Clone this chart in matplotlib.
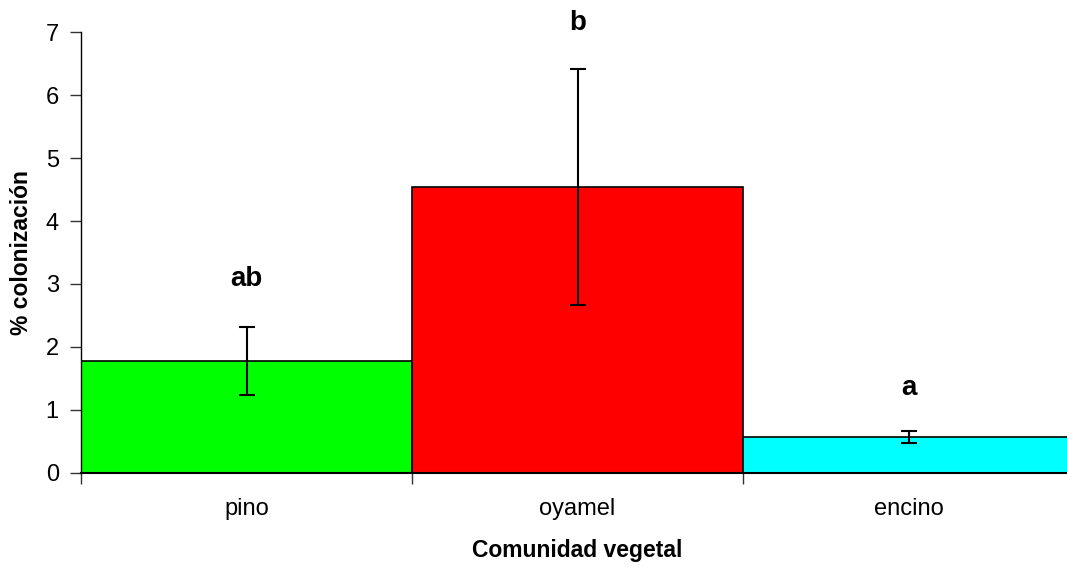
import matplotlib
matplotlib.use("Agg")
import matplotlib.pyplot as plt

# Mean colonisation per plant community, with error and significance letters
communities = ["pino", "oyamel", "encino"]
colonization = [1.77, 4.54, 0.565]
errors = [0.54, 1.88, 0.095]
letters = ["ab", "b", "a"]
letter_heights = [3.08, 7.14, 1.35]
bar_colors = ["#00FF00", "#FF0000", "#00FFFF"]

plt.rcParams["font.family"] = ["Liberation Sans", "DejaVu Sans"]

W, H = 1067, 567
fig = plt.figure(figsize=(W / 100, H / 100), dpi=100)
left_px, right_px, top_px, bottom_px = 81, 1074, 32.3, 472.7
ax = fig.add_axes([left_px / W, (H - bottom_px) / H,
                   (right_px - left_px) / W, (bottom_px - top_px) / H])

x = list(range(len(communities)))
ax.bar(x, colonization, width=1.0, color=bar_colors, edgecolor="black",
       linewidth=1.2, zorder=2)
ax.errorbar(x, colonization, yerr=errors, fmt="none", ecolor="black",
            elinewidth=1.5, capsize=5.8, capthick=1.5, zorder=3)

for xi, lab, yh in zip(x, letters, letter_heights):
    ax.text(xi, yh, lab, ha="center", va="center", fontsize=20,
            fontweight="bold", clip_on=False)

ax.set_xlim(-0.5, 2.5)
ax.set_ylim(0, 7)
ax.set_yticks(range(0, 8))
ax.tick_params(axis="y", direction="out", length=8, width=1, pad=8,
               labelsize=17, color="#333333")

ax.set_xticks(x)
ax.set_xticklabels(communities)
ax.set_xticks([-0.5, 0.5, 1.5, 2.5], minor=True)
ax.tick_params(axis="x", which="major", length=0, pad=18, labelsize=17)
ax.tick_params(axis="x", which="minor", direction="out", length=8, width=1,
               color="#333333")

for side in ("top", "right"):
    ax.spines[side].set_visible(False)
ax.spines["left"].set_linewidth(1)
ax.spines["bottom"].set_linewidth(1.5)

ax.set_xlabel("Comunidad vegetal", fontsize=16.5, fontweight="bold",
              labelpad=14)
ax.set_ylabel("% colonización", fontsize=16.5, fontweight="bold",
              labelpad=9)

fig.savefig("out.png", dpi=100)
